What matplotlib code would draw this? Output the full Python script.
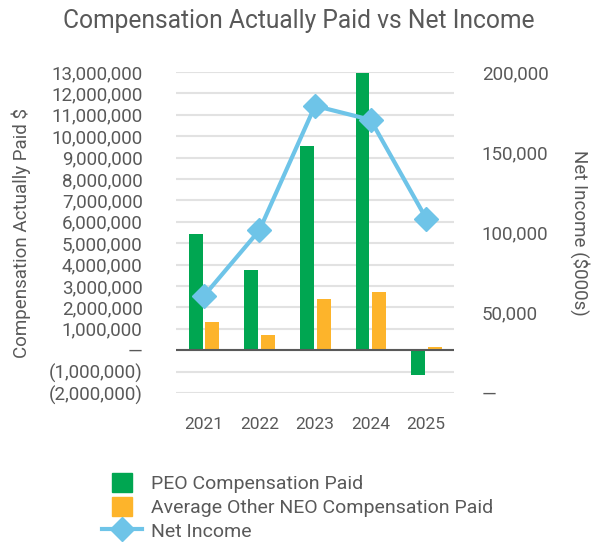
import matplotlib
matplotlib.use("Agg")
import matplotlib.pyplot as plt
import numpy as np
from matplotlib.patches import Rectangle, Patch
from matplotlib.lines import Line2D
from matplotlib.legend_handler import HandlerPatch
from matplotlib.ticker import FuncFormatter, MultipleLocator

plt.rcParams['font.family'] = ['Roboto', 'DejaVu Sans']

years = ["2021", "2022", "2023", "2024", "2025"]
peo_cap = [5430000, 3760000, 9520000, 12970000, -1150000]
neo_cap = [1330000, 700000, 2370000, 2740000, 140000]
net_income = [60400, 101400, 178900, 170200, 108700]

GREEN = "#00A651"
ORANGE = "#FDB42B"
BLUE = "#6EC4E8"
TXT = "#595959"

fig = plt.figure(figsize=(5.97, 5.46), dpi=100)
ax = fig.add_axes([176/597, 1-393/546, (454-176)/597, (393-72)/546])
ax2 = ax.twinx()

x = np.arange(len(years))
w = 0.25
ax.bar(x - 0.145, peo_cap, width=w, color=GREEN, zorder=2, label="PEO Compensation Paid")
ax.bar(x + 0.155, neo_cap, width=w, color=ORANGE, zorder=2, label="Average Other NEO Compensation Paid")
ax.axhline(0, color="#595959", lw=1.5, zorder=3)

ax.set_xlim(-0.5, 4.5)
ax.set_ylim(-2e6, 13e6)
ax.yaxis.set_major_locator(MultipleLocator(1e6))
ax.grid(axis='y', color="#E2E2E2", lw=1.5)
ax.set_axisbelow(True)

def left_fmt(v, pos):
    v = int(round(v))
    if v == 0:
        return "—"
    if v < 0:
        return "({:,})".format(-v)
    return "{:,}".format(v)

def right_fmt(v, pos):
    v = int(round(v))
    if v == 0:
        return "—"
    return "{:,}".format(v)

ax.yaxis.set_major_formatter(FuncFormatter(left_fmt))
ax.set_xticks(x)
ax.set_xticklabels(years)
ax.tick_params(axis='y', length=0, pad=24, labelsize=13.5, labelcolor=TXT)
ax.tick_params(axis='x', length=0, pad=17, labelsize=12.5, labelcolor=TXT)
for s in ax.spines.values():
    s.set_visible(False)

ax2.plot(x, net_income, color=BLUE, lw=3, marker='D', markersize=12, zorder=4, label="Net Income")
ax2.set_ylim(0, 200000)
ax2.yaxis.set_major_locator(MultipleLocator(50000))
ax2.yaxis.set_major_formatter(FuncFormatter(right_fmt))
ax2.tick_params(axis='y', length=0, pad=20, labelsize=13.5, labelcolor=TXT)
for s in ax2.spines.values():
    s.set_visible(False)

ax.set_ylabel("Compensation Actually Paid $", fontsize=13.5, color=TXT)
ax.yaxis.set_label_coords((31-176)/278, 0.5)
ax2.set_ylabel("Net Income ($000s)", fontsize=13.5, color=TXT, rotation=270, va='center')
ax2.yaxis.set_label_coords((580-176)/278, 0.5)

fig.suptitle("Compensation Actually Paid vs Net Income", fontsize=17.7, color=TXT, y=1-21/546, va='center')

def square(legend, orig_handle, xdescent, ydescent, width, height, fontsize):
    s = height
    return Rectangle((-xdescent + (width - s)/2, -ydescent + (height - s)/2), s, s)

handles = [Patch(color=GREEN), Patch(color=ORANGE),
           Line2D([], [], color=BLUE, lw=3, marker='D', markersize=12)]
labels = ["PEO Compensation Paid", "Average Other NEO Compensation Paid", "Net Income"]
fs = 14
leg = fig.legend(handles, labels, loc='upper left', bbox_to_anchor=(102/597, 1-473/546),
                 frameon=False, fontsize=fs, borderpad=0, borderaxespad=0,
                 handlelength=40/(fs*100/72), handleheight=22/(fs*100/72),
                 handletextpad=9/(fs*100/72), labelspacing=0.2,
                 handler_map={Patch: HandlerPatch(patch_func=square)})
for t in leg.get_texts():
    t.set_color(TXT)

fig.savefig("out.png", dpi=100)
